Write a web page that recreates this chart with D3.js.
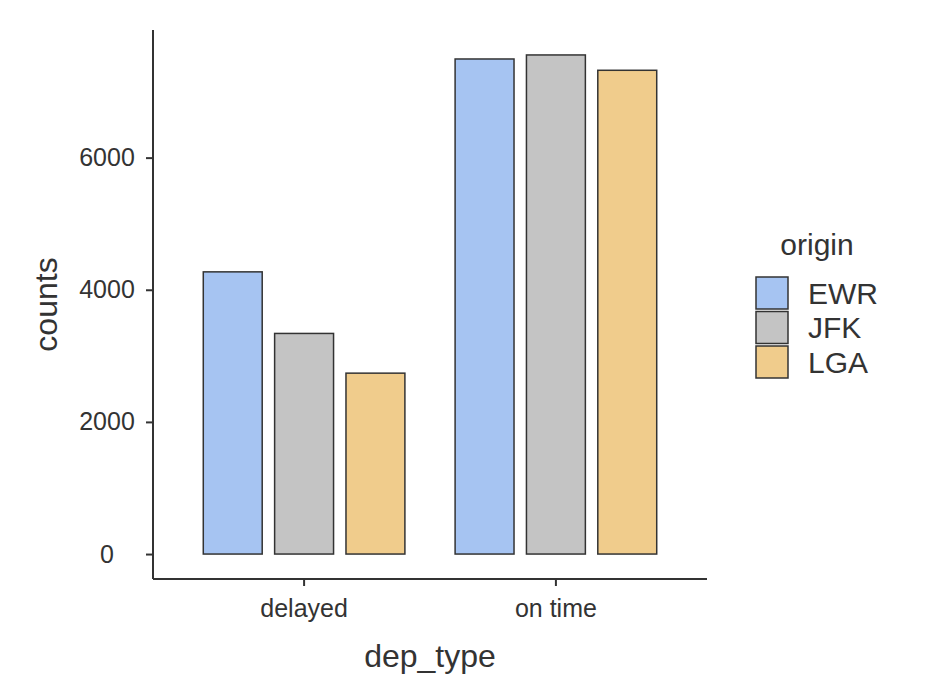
<!DOCTYPE html>
<html>
<head>
<meta charset="utf-8">
<script src="https://cdn.jsdelivr.net/npm/d3@7"></script>
<style>
  body { margin: 0; background: #fff; }
  text { font-family: "Liberation Sans", Arial, Helvetica, sans-serif; fill: #333; }
</style>
</head>
<body>
<script>
// categories and counts
const depTypes = ["delayed", "on time"];
const origins = ["EWR", "JFK", "LGA"];
const ewrCounts = [4271, 7493];
const jfkCounts = [3339, 7554];
const lgaCounts = [2738, 7322];
const yTicks = [0, 2000, 4000, 6000];
const originColors = ["#a6c4f2", "#c4c4c4", "#f0cc8c"];

const seriesByOrigin = {EWR: ewrCounts, JFK: jfkCounts, LGA: lgaCounts};

// flatten into rows for the bars
let rows = [];
depTypes.forEach(function (dep, i) {
    origins.forEach(function (o) {
        rows.push({dep: dep, origin: o, count: seriesByOrigin[o][i]});
    });
});

const width = 926, height = 700;
const panel = {left: 153, right: 707, top: 30, bottom: 579};

const svg = d3.select("body").append("svg")
    .attr("width", width)
    .attr("height", height);

// discrete x like ggplot: 0.6 units of padding each side
const x = d3.scaleBand()
    .domain(depTypes)
    .range([panel.left, panel.right])
    .paddingInner(0)
    .paddingOuter(0.1);

const step = x.step();
const dodge = d3.scaleBand()
    .domain(origins)
    .range([-0.425 * step, 0.425 * step]);
const barWidth = 0.234 * step;

// 5% expansion on the count axis
const maxCount = d3.max(rows, d => d.count);
const y = d3.scaleLinear()
    .domain([-0.05 * maxCount, 1.05 * maxCount])
    .range([panel.bottom, panel.top]);

const color = d3.scaleOrdinal().domain(origins).range(originColors);

// bars
svg.append("g")
    .selectAll("rect")
    .data(rows)
    .join("rect")
    .attr("x", d => x(d.dep) + step / 2 + dodge(d.origin) + (dodge.bandwidth() - barWidth) / 2)
    .attr("y", d => y(d.count))
    .attr("width", barWidth)
    .attr("height", d => y(0) - y(d.count))
    .attr("fill", d => color(d.origin))
    .attr("stroke", "#333")
    .attr("stroke-width", 1.5);

// y axis
const yAxis = svg.append("g")
    .attr("transform", "translate(" + panel.left + ",0)")
    .call(d3.axisLeft(y).tickValues(yTicks).tickFormat(d3.format("d"))
        .tickSize(7).tickPadding(10).tickSizeOuter(0));

// x axis
const xAxis = svg.append("g")
    .attr("transform", "translate(0," + panel.bottom + ")")
    .call(d3.axisBottom(x).tickSize(7).tickPadding(13).tickSizeOuter(0));

[xAxis, yAxis].forEach(function (ax) {
    ax.select(".domain").attr("stroke", "#333").attr("stroke-width", 2);
    ax.selectAll(".tick line").attr("stroke", "#333").attr("stroke-width", 2);
    ax.selectAll(".tick text")
        .attr("font-family", "Liberation Sans, Arial, sans-serif")
        .attr("font-size", 25)
        .attr("fill", "#333");
});
// y labels are centred under each other in the reference
yAxis.selectAll(".tick text")
    .attr("text-anchor", "middle")
    .attr("x", -46);

// plain line ends for the axis lines
yAxis.select(".domain").attr("d", "M0," + panel.bottom + "V" + panel.top);
xAxis.select(".domain").attr("d", "M" + panel.left + ",0H" + panel.right);

// axis titles
svg.append("text")
    .attr("x", (panel.left + panel.right) / 2)
    .attr("y", 667)
    .attr("text-anchor", "middle")
    .attr("font-size", 32)
    .text("dep_type");

svg.append("text")
    .attr("transform", "translate(57," + ((panel.top + panel.bottom) / 2) + ") rotate(-90)")
    .attr("text-anchor", "middle")
    .attr("font-size", 32)
    .text("counts");

// legend
const legend = svg.append("g").attr("transform", "translate(756,277)");
legend.append("text")
    .attr("x", 61)
    .attr("y", -22)
    .attr("text-anchor", "middle")
    .attr("font-size", 30)
    .text("origin");

const keySize = 32, keyStep = 34.5;
const item = legend.selectAll("g.item")
    .data(origins)
    .join("g")
    .attr("class", "item")
    .attr("transform", (d, i) => "translate(0," + i * keyStep + ")");

item.append("rect")
    .attr("width", keySize)
    .attr("height", keySize)
    .attr("fill", d => color(d))
    .attr("stroke", "#333")
    .attr("stroke-width", 1.5);

item.append("text")
    .attr("x", 52)
    .attr("y", keySize / 2)
    .attr("dy", "0.35em")
    .attr("font-size", 30)
    .text(d => d);
</script>
</body>
</html>
